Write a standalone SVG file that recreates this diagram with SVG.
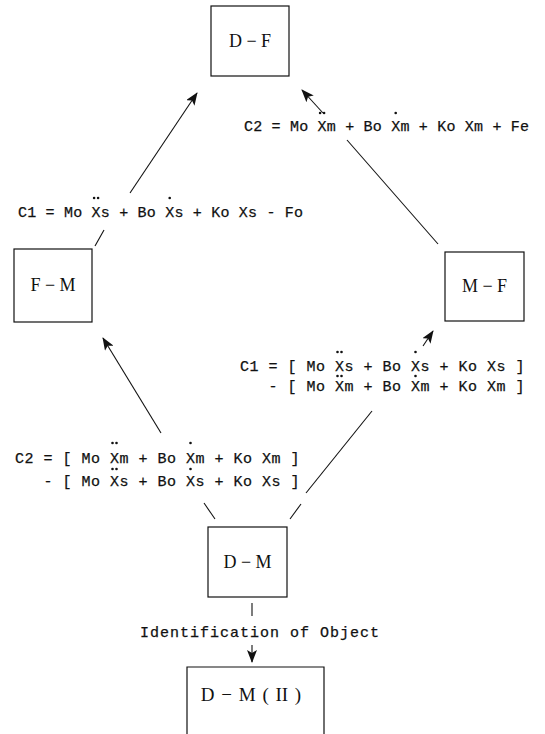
<svg xmlns="http://www.w3.org/2000/svg" width="545" height="734" viewBox="0 0 545 734">
<style>
.box{fill:none;stroke:#111;stroke-width:1.2}
.lbl{font-family:"Liberation Serif",serif;font-size:18px;fill:#111;text-anchor:middle}
.eq{font-family:"Liberation Mono",monospace;font-size:15px;fill:#111;white-space:pre;stroke:#111;stroke-width:0.25}
.ln{stroke:#111;stroke-width:1.1;fill:none}
.dot{fill:#111}
</style>
<defs>
<marker id="ah" markerWidth="13" markerHeight="10" refX="12" refY="5" orient="auto" markerUnits="userSpaceOnUse">
<path d="M0,0 L13,5 L0,10 L3,5 Z" fill="#111"/>
</marker>
</defs>
<rect width="545" height="734" fill="#fff"/>

<g id="node-DF"><rect class="box" x="211" y="6" width="78" height="70"/><text class="lbl" x="250" y="47">D − F</text></g>
<g id="node-FM"><rect class="box" x="14" y="249" width="78" height="73"/><text class="lbl" x="53" y="291">F − M</text></g>
<g id="node-MF"><rect class="box" x="445" y="252" width="79" height="69"/><text class="lbl" x="484.5" y="292">M − F</text></g>
<g id="node-DM"><rect class="box" x="208" y="527" width="79" height="70"/><text class="lbl" x="247.5" y="568">D − M</text></g>
<g id="node-DM2"><path class="box" d="M187,740 V667 H324 V740"/><text class="lbl" x="251" y="701" style="font-size:19px;word-spacing:2px">D − M ( II )</text></g>

<g id="labels">
<text class="eq" x="244" y="131" style="letter-spacing:0.2px">C2 = Mo Xm + Bo Xm + Ko Xm + Fe</text>
<circle class="dot" cx="320.1" cy="113" r="1.3"/><circle class="dot" cx="324.1" cy="113" r="1.3"/><circle class="dot" cx="395.7" cy="113" r="1.3"/>

<text class="eq" x="18" y="217" style="letter-spacing:0.2px">C1 = Mo Xs + Bo Xs + Ko Xs - Fo</text>
<circle class="dot" cx="94.1" cy="198" r="1.3"/><circle class="dot" cx="98.1" cy="198" r="1.3"/><circle class="dot" cx="169.7" cy="198" r="1.3"/>

<text class="eq" x="240" y="371" style="letter-spacing:0.5px">C1 = [ Mo Xs + Bo Xs + Ko Xs ]</text>
<circle class="dot" cx="337.5" cy="352" r="1.3"/><circle class="dot" cx="341.5" cy="352" r="1.3"/><circle class="dot" cx="415.5" cy="352" r="1.3"/>
<text class="eq" x="240" y="391" style="letter-spacing:0.5px">   - [ Mo Xm + Bo Xm + Ko Xm ]</text>
<circle class="dot" cx="337.5" cy="376" r="1.3"/><circle class="dot" cx="341.5" cy="376" r="1.3"/><circle class="dot" cx="415.5" cy="376" r="1.3"/>

<text class="eq" x="15" y="463" style="letter-spacing:0.5px">C2 = [ Mo Xm + Bo Xm + Ko Xm ]</text>
<circle class="dot" cx="112.5" cy="443" r="1.3"/><circle class="dot" cx="116.5" cy="443" r="1.3"/><circle class="dot" cx="190.5" cy="443" r="1.3"/>
<text class="eq" x="15" y="486" style="letter-spacing:0.5px">   - [ Mo Xs + Bo Xs + Ko Xs ]</text>
<circle class="dot" cx="112.5" cy="469" r="1.3"/><circle class="dot" cx="116.5" cy="469" r="1.3"/><circle class="dot" cx="190.5" cy="469" r="1.3"/>

<text class="eq" x="140" y="637" style="letter-spacing:1px">Identification of Object</text>
</g>

<g id="connectors">
<line class="ln" x1="95" y1="246" x2="104" y2="230"/>
<line class="ln" x1="130" y1="193" x2="197" y2="93" marker-end="url(#ah)"/>
<line class="ln" x1="438" y1="244" x2="347" y2="140"/>
<line class="ln" x1="323" y1="113" x2="302" y2="90" marker-end="url(#ah)"/>
<line class="ln" x1="215" y1="519" x2="204" y2="503"/>
<line class="ln" x1="161" y1="433" x2="103" y2="338" marker-end="url(#ah)"/>
<line class="ln" x1="290" y1="519" x2="301" y2="504"/>
<line class="ln" x1="306" y1="493" x2="372" y2="411"/>
<line class="ln" x1="423" y1="346" x2="433" y2="331" marker-end="url(#ah)"/>
<line class="ln" x1="252" y1="603" x2="252" y2="616"/>
<line class="ln" x1="252" y1="645" x2="252" y2="662" marker-end="url(#ah)"/>
</g>
</svg>
